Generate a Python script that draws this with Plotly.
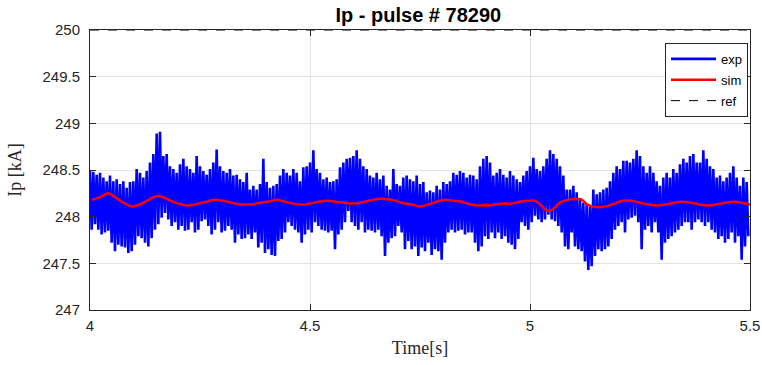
import numpy as np
import plotly.graph_objects as go

exp_upper = [
    248.49, 248.48, 248.45, 248.47, 248.42, 248.38, 248.44, 248.38, 248.40, 248.35,
    248.38, 248.31, 248.37, 248.38, 248.51, 248.47, 248.42, 248.49, 248.58, 248.67,
    248.89, 248.91, 248.65, 248.67, 248.54, 248.51, 248.47, 248.56, 248.62, 248.54,
    248.51, 248.47, 248.65, 248.54, 248.49, 248.45, 248.51, 248.58, 248.72, 248.54,
    248.49, 248.47, 248.51, 248.44, 248.45, 248.40, 248.37, 248.47,
    248.29, 248.33, 248.29, 248.35, 248.62, 248.37, 248.31, 248.33, 248.35, 248.44,
    248.51, 248.47, 248.44, 248.51, 248.47, 248.38, 248.53, 248.54, 248.58, 248.71,
    248.51, 248.47, 248.40, 248.42, 248.37, 248.38, 248.40, 248.53, 248.58, 248.62,
    248.63, 248.65, 248.71, 248.62, 248.54, 248.51, 248.44, 248.42, 248.47, 248.40,
    248.44, 248.33, 248.29, 248.51, 248.35, 248.33, 248.42, 248.44,
    248.40, 248.38, 248.44, 248.35, 248.37, 248.26, 248.28, 248.26, 248.33, 248.29,
    248.37, 248.35, 248.38, 248.47, 248.45, 248.49, 248.47, 248.42, 248.45, 248.44,
    248.40, 248.54, 248.62, 248.65, 248.58, 248.44, 248.47, 248.51, 248.45, 248.42,
    248.49, 248.44, 248.40, 248.37, 248.44, 248.49, 248.54, 248.63, 248.51, 248.49,
    248.54, 248.62, 248.71, 248.67, 248.62, 248.54, 248.44, 248.29,
    248.29, 248.33, 248.26, 248.20, 248.15, 248.13, 248.11, 248.29, 248.24, 248.26,
    248.29, 248.31, 248.38, 248.47, 248.54, 248.51, 248.60, 248.60, 248.58, 248.62,
    248.71, 248.65, 248.54, 248.47, 248.54, 248.47, 248.38, 248.33, 248.42, 248.47,
    248.42, 248.51, 248.47, 248.56, 248.62, 248.58, 248.65, 248.67, 248.58, 248.58,
    248.71, 248.62, 248.54, 248.51, 248.42, 248.44, 248.38, 248.42, 248.47, 248.54,
    248.42, 248.33, 248.42, 248.37,
]
exp_lower = [
    247.86, 247.92, 247.86, 247.81, 247.83, 247.85, 247.72, 247.63, 247.70, 247.68,
    247.67, 247.61, 247.63, 247.70, 247.79, 247.77, 247.72, 247.68, 247.77, 247.86,
    247.92, 247.99, 248.04, 247.97, 247.90, 247.94, 247.86, 247.90, 247.85, 247.86,
    247.94, 247.83, 247.86, 247.95, 247.97, 247.90, 247.81, 247.86, 247.94, 247.83,
    247.85, 247.90, 247.86, 247.72, 247.81, 247.76, 247.77, 247.81,
    247.76, 247.83, 247.67, 247.72, 247.61, 247.65, 247.59, 247.58, 247.74, 247.76,
    247.83, 247.94, 247.90, 247.86, 247.83, 247.72, 247.81, 247.86, 247.83, 247.94,
    247.90, 247.86, 247.85, 247.83, 247.85, 247.65, 247.81, 247.86, 247.94, 248.06,
    247.94, 247.90, 247.86, 247.94, 247.83, 247.86, 247.85, 247.83, 247.86, 247.79,
    247.58, 247.72, 247.77, 247.79, 247.90, 247.83, 247.65, 247.74,
    247.65, 247.68, 247.58, 247.67, 247.63, 247.72, 247.59, 247.65, 247.63, 247.54,
    247.72, 247.83, 247.86, 247.83, 247.85, 247.86, 247.81, 247.83, 247.83, 247.72,
    247.63, 247.68, 247.79, 247.76, 247.83, 247.77, 247.83, 247.76, 247.79, 247.72,
    247.70, 247.65, 247.76, 247.94, 247.90, 247.86, 247.94, 248.01, 247.97, 247.94,
    247.97, 248.02, 247.97, 247.95, 247.90, 247.83, 247.68, 247.65,
    247.83, 247.68, 247.65, 247.63, 247.52, 247.43, 247.47, 247.58, 247.65, 247.63,
    247.65, 247.68, 247.76, 247.86, 247.90, 247.94, 247.83, 247.97, 247.99, 248.01,
    247.94, 247.65, 247.86, 247.90, 247.83, 247.94, 247.83, 247.54, 247.72, 247.76,
    247.79, 247.83, 247.86, 247.90, 247.94, 247.94, 247.86, 247.94, 247.97, 247.94,
    247.90, 247.94, 247.86, 247.83, 247.76, 247.79, 247.72, 247.76, 247.83, 247.72,
    247.79, 247.54, 247.68, 247.79,
]

# sim signal
t_sim = [
    4.004, 4.023, 4.042, 4.057, 4.076, 4.095, 4.114, 4.133, 4.152, 4.170,
    4.189, 4.208, 4.227, 4.246, 4.265, 4.284, 4.303, 4.322, 4.341, 4.360,
    4.367, 4.386, 4.405, 4.424, 4.443, 4.462, 4.481, 4.500, 4.519, 4.538,
    4.557, 4.576, 4.595, 4.614, 4.633, 4.652, 4.670, 4.689, 4.708,
    4.731, 4.750, 4.769, 4.788, 4.807, 4.826, 4.845, 4.864, 4.883, 4.902,
    4.920, 4.939, 4.958, 4.977, 4.996, 5.011, 5.023, 5.034, 5.045, 5.057, 5.068,
    5.084, 5.107, 5.118, 5.130, 5.141, 5.153, 5.172, 5.192, 5.211, 5.230,
    5.250, 5.269, 5.288, 5.308, 5.327, 5.346, 5.366, 5.385, 5.405, 5.424,
    5.443, 5.462, 5.482, 5.500,
]
ip_sim = [
    248.18, 248.21, 248.25, 248.21, 248.15, 248.11, 248.13, 248.18, 248.22, 248.20,
    248.16, 248.13, 248.12, 248.14, 248.16, 248.18, 248.17, 248.15, 248.13, 248.13,
    248.13, 248.15, 248.16, 248.18, 248.16, 248.14, 248.13, 248.14, 248.16, 248.17,
    248.16, 248.15, 248.14, 248.15, 248.17, 248.19, 248.19, 248.18, 248.15,
    248.13, 248.11, 248.13, 248.16, 248.18, 248.17, 248.16, 248.13, 248.12, 248.12,
    248.13, 248.14, 248.14, 248.16, 248.17, 248.17, 248.13, 248.08, 248.06, 248.10, 248.15,
    248.18, 248.19, 248.18, 248.13, 248.11, 248.10, 248.11, 248.14, 248.17, 248.17,
    248.15, 248.13, 248.12, 248.13, 248.15, 248.16, 248.15, 248.13, 248.12, 248.13,
    248.15, 248.16, 248.15, 248.13,
]

ip_ref = 250
t_range = [4, 5.5]
x_ticks = [4, 4.5, 5, 5.5]
x_tick_labels = ["4", "4.5", "5", "5.5"]
y_ticks = [247, 247.5, 248, 248.5, 249, 249.5, 250]
y_tick_labels = ["247", "247.5", "248", "248.5", "249", "249.5", "250"]

# sample grid of the exp signal, max and min alternated in each sample
n = len(exp_upper)
t_grid = np.linspace(t_range[0], t_range[1], n, endpoint=False)
dt = t_grid[1] - t_grid[0]
t_exp = np.empty(2 * n)
ip_exp = np.empty(2 * n)
t_exp[0::2] = t_grid
t_exp[1::2] = t_grid + dt / 2
ip_exp[0::2] = exp_upper
ip_exp[1::2] = exp_lower

fig = go.Figure()
fig.add_trace(go.Scatter(x=t_exp, y=ip_exp, mode="lines", name="exp", legendgroup="exp",
                         line=dict(color="#0000ff", width=2.6)))
fig.add_trace(go.Scatter(x=t_sim, y=ip_sim, mode="lines", name="sim", legendgroup="sim",
                         line=dict(color="#ff0000", width=2.5, shape="spline")))
fig.add_trace(go.Scatter(x=t_range, y=[ip_ref, ip_ref], mode="lines", name="ref",
                         legendgroup="ref",
                         line=dict(color="black", width=1, dash="dash")))

axis_style = dict(
    showline=True, linecolor="#262626", linewidth=1, mirror="allticks",
    ticks="inside", ticklen=6, tickcolor="#262626",
    showgrid=True, gridcolor="#e3e3e3", gridwidth=1, zeroline=False,
    automargin=False,
    tickfont=dict(family="Liberation Sans, Arial", size=15, color="#262626"),
)

fig.update_layout(
    width=762, height=365,
    margin=dict(l=90, r=12, t=30, b=55),
    paper_bgcolor="white", plot_bgcolor="white",
    title=dict(text="<b>Ip - pulse # 78290</b>", x=0.549, xanchor="center",
               y=0.979, yanchor="top",
               font=dict(family="Liberation Sans, Arial", size=20, color="black")),
    showlegend=True,
    legend=dict(x=0.997, y=0.954, xanchor="right", yanchor="top",
                bgcolor="white", bordercolor="#262626", borderwidth=1,
                font=dict(family="Liberation Sans, Arial", size=13, color="black"),
                tracegroupgap=1, itemwidth=45),
    xaxis=dict(axis_style, range=t_range, tickvals=x_ticks, ticktext=x_tick_labels,
               ticklabelstandoff=2,
               title=dict(text="Time[s]", standoff=8,
                          font=dict(family="Liberation Serif, serif", size=18, color="#262626"))),
    yaxis=dict(axis_style, range=[247, 250], tickvals=y_ticks, ticktext=y_tick_labels,
               ticklabelstandoff=6,
               title=dict(text="Ip [kA]", standoff=16,
                          font=dict(family="Liberation Serif, serif", size=18, color="#262626"))),
)

# drop the page's default body margin so the figure starts at the window corner
fig.write_html("out.html", config={"displayModeBar": False},
               post_script="document.body.style.margin = '0';")
